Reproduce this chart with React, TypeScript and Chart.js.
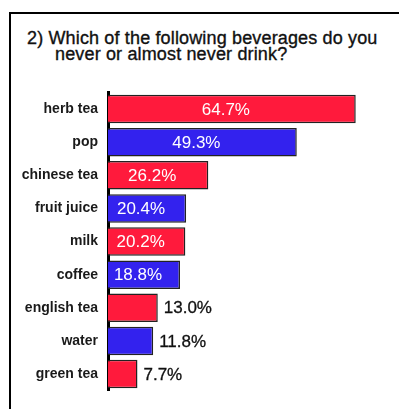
import React, { useEffect, useRef } from "react";
import { Chart, registerables } from "chart.js";

Chart.register(...registerables);

const categories = ["herb tea", "pop", "chinese tea", "fruit juice", "milk", "coffee", "english tea", "water", "green tea"];
const values = [64.7, 49.3, 26.2, 20.4, 20.2, 18.8, 13.0, 11.8, 7.7];
const barColors = ["#ff1a3c", "#3322ee", "#ff1a3c", "#3322ee", "#ff1a3c", "#3322ee", "#ff1a3c", "#3322ee", "#ff1a3c"];
const titleLines = ["2) Which of the following beverages do you", "never or almost never drink?"];

const FONT = "'Liberation Sans', Arial, Helvetica, sans-serif";

const valueLabels = {
  id: "valueLabels",
  afterDatasetsDraw(chart: any) {
    const ctx = chart.ctx;
    const meta = chart.getDatasetMeta(0);
    ctx.save();
    ctx.font = `17px ${FONT}`;
    ctx.textBaseline = "middle";
    meta.data.forEach((bar: any, i: number) => {
      const v = values[i];
      const label = v.toFixed(1) + "%";
      if (v >= 15) {
        ctx.fillStyle = "#ffffff";
        ctx.textAlign = "center";
        ctx.fillText(label, (bar.base + bar.x) / 2 - 6, bar.y + 1);
      } else {
        ctx.fillStyle = "#111111";
        ctx.strokeStyle = "#111111";
        ctx.lineWidth = 0.3;
        ctx.textAlign = "left";
        ctx.fillText(label, bar.x + 6, bar.y + 1);
        ctx.strokeText(label, bar.x + 6, bar.y + 1);
      }
    });
    ctx.restore();
  },
};

export default function App() {
  const ref = useRef<HTMLCanvasElement>(null);
  useEffect(() => {
    if (!ref.current) return;
    const chart = new Chart(ref.current, {
      type: "bar",
      data: {
        labels: categories,
        datasets: [
          {
            data: values,
            backgroundColor: barColors,
            borderColor: "#222222",
            borderWidth: 1.5,
            categoryPercentage: 1,
            barPercentage: 0.86,
          },
        ],
      },
      options: {
        indexAxis: "y",
        animation: false,
        responsive: false,
        maintainAspectRatio: false,
        layout: { padding: { top: 92.5, bottom: 1.5, left: 0, right: 0 } },
        plugins: { legend: { display: false }, title: { display: false }, tooltip: { enabled: false } },
        scales: {
          x: { display: false, min: 0, max: 76 },
          y: {
            afterFit: (s: any) => {
              s.width = 108;
            },
            grid: { display: false, drawTicks: false },
            border: { display: true, color: "#000000", width: 3 },
            ticks: {
              padding: 10,
              color: "#1a1a1a",
              font: { family: FONT, size: 14, weight: "bold" },
            },
          },
        },
      },
      plugins: [valueLabels],
    });
    return () => chart.destroy();
  }, []);

  const lineStyle: React.CSSProperties = {
    position: "absolute",
    fontFamily: FONT,
    fontSize: 18,
    lineHeight: "15px",
    letterSpacing: "0.15px",
    color: "#111",
    whiteSpace: "nowrap",
    WebkitTextStroke: "0.35px #111",
  };

  return (
    <div style={{ position: "absolute", left: 0, top: 0, width: 399, height: 409, overflow: "hidden", background: "#fff" }}>
      <div
        style={{
          position: "absolute",
          left: 9,
          top: 12,
          width: 420,
          height: 420,
          borderTop: "2px solid #000",
          borderLeft: "2px solid #000",
        }}
      />
      <div style={{ ...lineStyle, left: 27, top: 31 }}>{titleLines[0]}</div>
      <div style={{ ...lineStyle, left: 55, top: 47 }}>{titleLines[1]}</div>
      <canvas ref={ref} width={399} height={409} style={{ position: "absolute", left: 0, top: 0, width: 399, height: 409 }} />
    </div>
  );
}
